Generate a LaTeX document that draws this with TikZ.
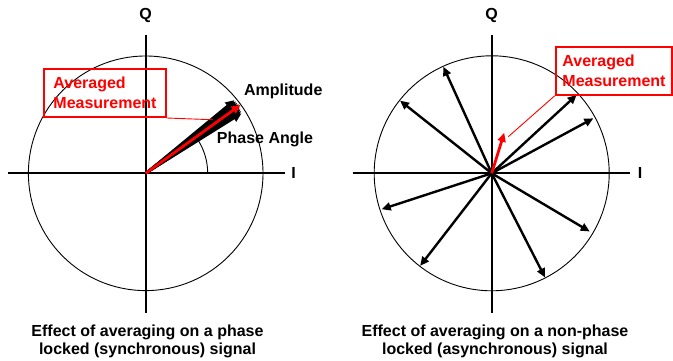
\documentclass[tikz,border=0pt]{standalone}
\usepackage{fontspec}
\setmainfont{Liberation Sans}
\usetikzlibrary{arrows.meta,positioning,calc}
\definecolor{avgred}{RGB}{255,0,0}

\begin{document}
\begin{tikzpicture}[x=1pt,y=1pt,
    axis/.style={line width=2pt},
    ring/.style={line width=0.9pt},
    vec/.style={line width=2.4pt, -{Triangle[length=9pt,width=8pt]}},
    avgvec/.style={vec, draw=avgred, fill=avgred, line width=2.8pt},
    tag/.style={rectangle, draw=avgred, line width=2pt, text=avgred, align=left,
                font=\fontsize{16}{20}\selectfont\bfseries, minimum height=48pt, inner sep=0pt},
    lbl/.style={font=\fontsize{16}{19}\selectfont\bfseries},
    caption/.style={align=center, font=\fontsize{16}{17.5}\selectfont\bfseries},
    pointer/.style={draw=avgred, line width=0.9pt}
]
\useasboundingbox (0,0) rectangle (673,361);

% phase locked signal
\begin{scope}[shift={(145.7,187.7)}]
    \coordinate (c1) at (0,0);
    \draw[ring] (c1) circle (117.3);
    \draw[axis] (-137.5,0) -- (139.5,0);
    \draw[axis] (0,-139.5) -- (0,138.3);
    \node[lbl] (q1) at (0,158) {Q};
    \node[lbl] (i1) at (148,0) {I};
    \draw[line width=0.9pt] (62,0) arc[start angle=0, end angle=37, radius=62];
    \foreach \a/\r [count=\k] in {39.5/115, 38.5/115.5, 37.5/115.5, 36.5/116,
                                  35/115, 34/114.5, 33/114, 32/113}{
        \coordinate (t1\k) at (\a:\r);
        \draw[vec] (c1) -- (t1\k);
    }
    \coordinate (r1) at (35.8:117);
    \draw[avgvec] (c1) -- (r1);
    \coordinate (m1) at (38.5:86);
    \node[tag, minimum width=121.4pt] (avg1) at (-40.7,80.3) {Averaged\\Measurement};
    \draw[pointer] (avg1.south east) -- (m1);
    \node[lbl] (amp) at (137.6,81.6) {Amplitude};
    \node[lbl] (phase) at (119.3,34) {Phase Angle};
\end{scope}
\node[caption] (cap1) at (147.5,19.7) {Effect of averaging on a phase\\locked (synchronous) signal};

% non-phase locked signal
\begin{scope}[shift={(491.7,187.7)}]
    \coordinate (c2) at (0,0);
    \draw[ring] (c2) circle (117.5);
    \draw[axis] (-139,0) -- (138.3,0);
    \draw[axis] (0,-139.5) -- (0,138.3);
    \node[lbl] (q2) at (0,158) {Q};
    \node[lbl] (i2) at (148.3,0) {I};
    \foreach \a/\r [count=\k] in {114.4/117, 141.6/117, 42.7/115.6, 28.4/115.6,
                                  198.1/115.7, 232.3/117, 297.1/117, 329.3/114}{
        \coordinate (t2\k) at (\a:\r);
        \draw[vec] (c2) -- (t2\k);
    }
    \coordinate (r2) at (72.8:42.5);
    \draw[avgvec] (c2) -- (r2);
    \coordinate (m2) at (65.6:40.2);
    \node[tag, minimum width=116.6pt] (avg2) at (122.3,102.5) {Averaged\\Measurement};
    \draw[pointer] (avg2.south west) -- (m2);
\end{scope}
\node[caption] (cap2) at (495,19.7) {Effect of averaging on a non-phase\\locked (asynchronous) signal};
\end{tikzpicture}
\end{document}
